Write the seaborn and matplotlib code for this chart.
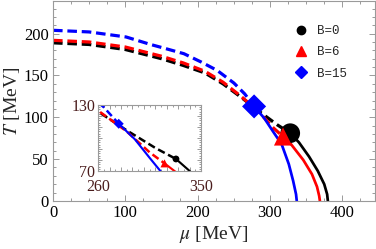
import numpy as np
import pandas as pd
import matplotlib
matplotlib.use("Agg")
import matplotlib.pyplot as plt
from matplotlib.lines import Line2D
from matplotlib.ticker import MultipleLocator, FuncFormatter
import seaborn as sns

# crossover (dashed) lines
mu_cross_b0 = [0, 50, 100, 150, 180, 210, 235, 260, 285, 310, 328]
T_cross_b0 = [189, 187, 181, 170, 162, 153, 140, 124, 107, 91, 81]
mu_cross_b6 = [0, 50, 100, 150, 180, 210, 235, 260, 285, 305, 318]
T_cross_b6 = [192, 190, 184, 173, 165, 155, 142, 125, 106, 87, 77]
mu_cross_b15 = [0, 50, 101, 135, 152, 181, 205, 227, 250, 265, 278]
T_cross_b15 = [204, 202, 196, 187, 183, 176, 166, 156, 141, 128, 113]

# first order (solid) lines
mu_first_b0 = [328, 340, 354, 366, 375, 379, 380]
T_first_b0 = [81, 70, 53, 36, 20, 8, 0]
mu_first_b6 = [318, 328, 346, 358, 365, 368, 369]
T_first_b6 = [77, 69, 49, 32, 17, 6, 0]
mu_first_b15 = [278, 292, 305, 316, 326, 332, 336, 337]
T_first_b15 = [113, 99, 82, 68, 44, 24, 8, 0]

# critical end points
cep_labels = ["B=0", "B=6", "B=15"]
cep_mu = [328, 318, 278]
cep_T = [81, 77, 113]

colors = ["black", "red", "blue"]
cep_markers = ["o", "^", "D"]

sns.set_style("ticks")
plt.rcParams["font.family"] = ["Liberation Serif", "DejaVu Serif"]
plt.rcParams["mathtext.fontset"] = "stix"

cross = [(mu_cross_b0, T_cross_b0), (mu_cross_b6, T_cross_b6), (mu_cross_b15, T_cross_b15)]
first = [(mu_first_b0, T_first_b0), (mu_first_b6, T_first_b6), (mu_first_b15, T_first_b15)]


def draw_curves(ax, lw, big):
    for (mx, tx), (mf, tf), c in zip(cross, first, colors):
        sns.lineplot(x=mx, y=tx, ax=ax, color=c, lw=lw, ls=(0, (3.0, 1.5)),
                     sort=False, estimator=None, legend=False, zorder=2)
        sns.lineplot(x=mf, y=tf, ax=ax, color=c, lw=lw * 0.85,
                     sort=False, estimator=None, legend=False, zorder=2)
    sizes = [200, 170, 150] if big else [24, 34, 26]
    for i in range(3):
        sns.scatterplot(x=[cep_mu[i]], y=[cep_T[i]], ax=ax, color=colors[i],
                        marker=cep_markers[i], s=sizes[i], edgecolor="none",
                        legend=False, zorder=4)


def style_frame(ax, color):
    for sp in ax.spines.values():
        sp.set_color("#9a9a9a")
        sp.set_linewidth(0.8)
        sp.set_visible(True)
    ax.tick_params(which="both", direction="in", top=True, right=True,
                   color="#9a9a9a", width=0.7, labelcolor=color)
    ax.set_xlabel("")
    ax.set_ylabel("")


fig = plt.figure(figsize=(3.76, 2.49), dpi=100)
ax = fig.add_axes([0.141, 0.193, 0.856, 0.803])
draw_curves(ax, 2.3, True)
ax.set_xlim(0, 445)
ax.set_ylim(0, 239)
ax.xaxis.set_major_locator(MultipleLocator(100))
ax.xaxis.set_minor_locator(MultipleLocator(25))
ax.yaxis.set_major_locator(MultipleLocator(50))
ax.yaxis.set_minor_locator(MultipleLocator(10))
style_frame(ax, "black")
ax.tick_params(which="major", length=4, labelsize=12, pad=3)
ax.tick_params(which="minor", length=2)
ax.set_xlabel(r"$\mu$ [MeV]", fontsize=14, labelpad=2)
ax.set_ylabel(r"$T$ [MeV]", fontsize=14, labelpad=1)

handles = [Line2D([], [], ls="none", marker=m, color=c, markersize=s)
           for m, c, s in zip(cep_markers, colors, [6, 6.5, 6])]
ax.legend(handles, cep_labels, loc="upper left", bbox_to_anchor=(0.735, 0.905),
          borderaxespad=0, frameon=False, handlelength=1.0, handletextpad=0.8,
          labelspacing=0.75, prop={"family": "Liberation Mono", "size": 9})

# zoomed inset near the end points
axin = fig.add_axes([0.261, 0.313, 0.274, 0.265])
axin.set_facecolor("white")
draw_curves(axin, 1.8, False)
axin.set_xlim(260, 350)
axin.set_ylim(70, 130)
axin.xaxis.set_major_locator(MultipleLocator(10))
axin.xaxis.set_minor_locator(MultipleLocator(5))
axin.yaxis.set_major_locator(MultipleLocator(10))
axin.yaxis.set_minor_locator(MultipleLocator(2))
axin.xaxis.set_major_formatter(FuncFormatter(lambda v, p: f"{v:.0f}" if v in (260, 350) else ""))
axin.yaxis.set_major_formatter(FuncFormatter(lambda v, p: f"{v:.0f}" if v in (70, 130) else ""))
style_frame(axin, "#4a1c1c")
axin.tick_params(which="major", length=3, labelsize=11.5, pad=2)
axin.tick_params(axis="x", which="major", pad=6)
axin.tick_params(which="minor", length=1.5)

fig.savefig("out.png", dpi=100)
